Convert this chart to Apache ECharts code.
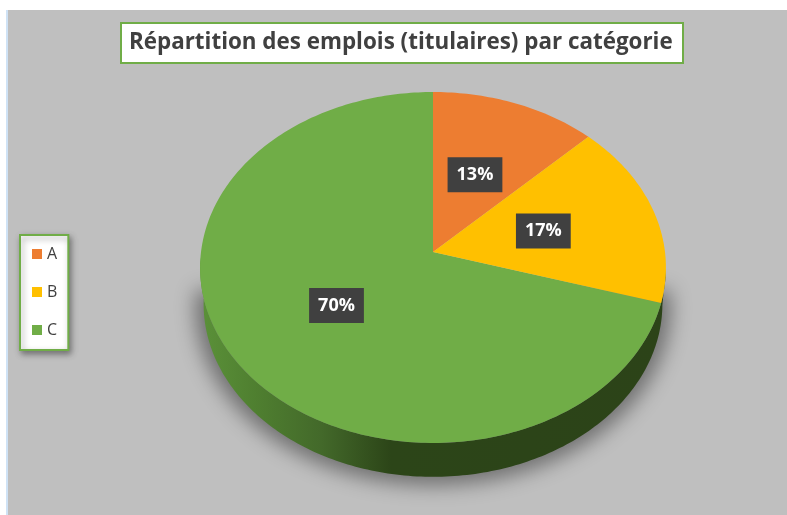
<!DOCTYPE html>
<html><head><meta charset="utf-8">
<script src="https://cdn.jsdelivr.net/npm/echarts@6/dist/echarts.min.js"></script>
<style>html,body{margin:0;padding:0;background:#fff;overflow:hidden}#c{width:787px;height:515px;filter:blur(0.45px)}</style>
</head><body><div id="c"></div>
<script>
const titleText = 'Répartition des emplois (titulaires) par catégorie';
const categories = ['A', 'B', 'C'];
const values = [12.6, 17, 70.4];
const colors = ['#ED7D31', '#FFC000', '#70AD47'];

// Tilted disc: unit-circle -> screen projection
const APEX = {x: 433, y: 252}, A_R = 232, B_R = 174.1, K = 0.0883, DEPTH = 37, OFF = 2000;
function proj(u, v, f, dy) {
  const d = 1 - K * v * f;
  return [APEX.x + A_R * u * f / d, APEX.y + (dy || 0) + B_R * v * f / d];
}
function at(frac, f, dy) {
  const t = frac * 2 * Math.PI;
  return proj(Math.sin(t), -Math.cos(t), f, dy);
}
const total = values.reduce((a, b) => a + b, 0);
function startOf(i) { return values.slice(0, i).reduce((a, b) => a + b, 0) / total; }

function sliceItem(i, color) {
  return function (params, api) {
    const s = startOf(i), e = s + api.value(0) / total;
    const pts = [[APEX.x, APEX.y]];
    const n = Math.max(8, Math.round((e - s) * 360));
    for (let k = 0; k <= n; k++) pts.push(at(s + (e - s) * k / n, 1));
    const children = [];
    if (categories[i] === 'C') {
      const sh = [], wall = [];
      const a0 = 0.265, a1 = 0.745, m = 180;
      for (let k = 0; k <= m; k++) {
        const p = at(0.25 + 0.5 * k / m, 1.02, 38);
        sh.push([p[0] - OFF, p[1]]);
      }
      children.push({
        type: 'polygon', shape: {points: sh}, silent: true,
        style: {fill: '#000', shadowBlur: 20, shadowOffsetX: OFF, shadowColor: 'rgba(0,0,0,0.42)'}
      });
      for (let k = 0; k <= m; k++) wall.push(at(a0 + (a1 - a0) * k / m, 1));
      for (let k = m; k >= 0; k--) wall.push(at(a0 + (a1 - a0) * k / m, 0.985, DEPTH));
      children.push({
        type: 'polygon', shape: {points: wall}, silent: true,
        style: {
          fill: new echarts.graphic.LinearGradient(0, 0, 1, 0, [
            {offset: 0, color: '#5b9139'},
            {offset: 0.12, color: '#4f7f30'},
            {offset: 0.26, color: '#43692a'},
            {offset: 0.41, color: '#2c4518'},
            {offset: 1, color: '#2c4318'}
          ])
        }
      });
    }
    children.push({type: 'polygon', shape: {points: pts}, style: {fill: color}});
    const c = at((s + e) / 2, 0.5);
    children.push({
      type: 'text', x: c[0] - 1, y: c[1], z2: 10,
      style: {
        text: Math.round(api.value(0)) + '%', align: 'center', verticalAlign: 'middle',
        fill: '#fff', font: 'bold 18px "Open Sans"',
        backgroundColor: '#404040', padding: [8, 9, 9, 9],
        boxShadowBlur: 6, boxShadowOffsetX: 2, boxShadowOffsetY: 3, boxShadowColor: 'rgba(0,0,0,0.45)'
      }
    });
    return {type: 'group', children};
  };
}

const chart = echarts.init(document.getElementById('c'));
const order = [2, 0, 1];
chart.setOption({
  animation: false,
  graphic: [
    {type: 'rect', z: -10, shape: {x: 8, y: 10, width: 779, height: 505}, style: {fill: '#bfbfbf'}},
    {type: 'rect', z: -10, shape: {x: 6, y: 10, width: 2, height: 505}, style: {fill: '#cfe2f5'}}
  ],
  title: {
    text: titleText, left: 121, top: 23,
    backgroundColor: '#fff', borderColor: '#70AD47', borderWidth: 2,
    padding: [8, 11, 8, 8],
    textStyle: {color: '#404040', fontFamily: 'Open Sans', fontWeight: 'bold', fontSize: 22.4, lineHeight: 24}
  },
  legend: {
    data: categories, orient: 'vertical', left: 20, top: 235,
    itemWidth: 10, itemHeight: 10, itemGap: 22, icon: 'rect',
    padding: [11, 11, 12, 12],
    backgroundColor: '#fff', borderColor: '#70AD47', borderWidth: 2,
    shadowBlur: 6, shadowOffsetX: 2, shadowOffsetY: 3, shadowColor: 'rgba(0,0,0,0.4)',
    textStyle: {color: '#404040', fontFamily: 'Open Sans', fontSize: 16}, selectedMode: false
  },
  series: order.map(i => ({
    type: 'custom', name: categories[i], coordinateSystem: 'none',
    itemStyle: {color: colors[i]}, data: [[values[i]]],
    renderItem: sliceItem(i, colors[i])
  }))
});
</script></body></html>
